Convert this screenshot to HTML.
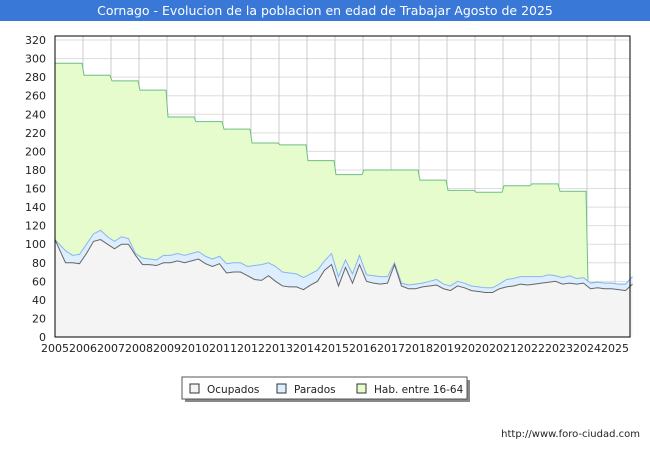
<!DOCTYPE html>
<html><head><meta charset="utf-8"><style>
body{margin:0;width:650px;height:450px;background:#fff;font-family:"DejaVu Sans","Liberation Sans",sans-serif;overflow:hidden}
#title{position:absolute;left:0;top:0;width:650px;height:21px;background:#3a78d8;color:#fff;font-size:12.5px;text-align:center;line-height:22px}
</style></head><body>
<div id="title">Cornago - Evolucion de la poblacion en edad de Trabajar Agosto de 2025</div>
<svg id="c" width="650" height="450" style="position:absolute;left:0;top:0;font-family:'DejaVu Sans',sans-serif"></svg>
<script>
const years=[2005,2006,2007,2008,2009,2010,2011,2012,2013,2014,2015,2016,2017,2018,2019,2020,2021,2022,2023,2024,2025];
const yTicks=[0,20,40,60,80,100,120,140,160,180,200,220,240,260,280,300,320];
const habAnnual=[295,282,276,266,237,232,224,209,207,190,175,180,180,169,158,156,163,165,157];
const ocupados=[105,80,80,79, 90,103,105,100, 95,100,100,88, 78,78,77,80, 80,82,80,82, 84,79,76,79, 69,70,70,66, 62,61,66,60, 55,54,54,51, 56,60,72,78, 55,75,58,78, 60,58,57,58, 78,55,52,52, 54,55,56,52, 50,55,53,50, 49,48,48,52, 54,55,57,56, 57,58,59,60, 57,58,57,58, 52,53,52,52, 51,50,57];
const parados=[0,13,8,10, 10,8,10,8, 8,8,6,2, 7,6,6,8, 8,8,8,8, 8,8,8,8, 10,10,10,10, 15,17,14,16, 15,15,14,13, 12,12,10,12, 10,8,10,10, 7,8,8,7, 2,3,4,5, 4,5,6,5, 5,5,5,5, 5,5,5,5, 8,8,8,9, 8,7,8,6, 7,8,6,6, 6,6,6,6, 6,7,8];
const L=55,R=630,T=36,B=337;
const X=t=>L+(t-2005)*28;
const Y=v=>B-v*(297/320);
const svg=document.getElementById('c');
const NS='http://www.w3.org/2000/svg';
function mk(tag,attrs,parent){const e=document.createElementNS(NS,tag);for(const k in attrs)e.setAttribute(k,attrs[k]);(parent||svg).appendChild(e);return e;}
mk('rect',{x:L,y:T,width:R-L,height:B-T,fill:'#fff'});
yTicks.forEach(v=>{const l=mk('line',{x1:L,x2:R,y1:Y(v),y2:Y(v),stroke:'#ddd','stroke-width':1});

const t=mk('text',{x:L-9,y:Y(v)+4,'text-anchor':'end','font-size':'11',fill:'#222'});t.textContent=v;
});
years.forEach(yr=>{const l=mk('line',{x1:X(yr),x2:X(yr),y1:T,y2:B,stroke:'#ccc','stroke-width':1});

const t=mk('text',{x:X(yr),y:B+15,'text-anchor':'middle','font-size':'11',fill:'#222'});t.textContent=yr;
});
const tq=i=>2005+i*0.25+0.125;
const n=ocupados.length;
const tot=ocupados.map((o,i)=>o+parados[i]);
let hp=[];
habAnnual.forEach((h,i)=>{const y0=2005+i;hp.push([X(y0)+(i?1:0),Y(h)]);hp.push([X(y0+1)-1,Y(h)]);});
hp.push([X(2024)+1,Y(tot[76])]);
for(let i=77;i<n;i++)hp.push([X(tq(i)),Y(tot[i])]);
const end=X(tq(n-1));
const hab=mk('path',{d:'M'+L+','+B+' L'+hp.map(p=>p.join(',')).join(' L')+' L'+end+','+B+'Z',fill:'#e6fccd',stroke:'none'});

const habL=mk('polyline',{points:hp.map(p=>p.join(',')).join(' '),fill:'none',stroke:'#6cbf84','stroke-width':1});

const pt=a=>a.map((v,i)=>X(i===0?2005:tq(i))+','+Y(v));
const tp=pt(tot);
const par=mk('path',{d:'M'+L+','+B+' L'+tp.join(' L')+' L'+end+','+B+'Z',fill:'#ddeeff',stroke:'none'});

const parL=mk('polyline',{points:tp.join(' '),fill:'none',stroke:'#8ab4f0','stroke-width':1});

const op=pt(ocupados);
const oc=mk('path',{d:'M'+L+','+B+' L'+op.join(' L')+' L'+end+','+B+'Z',fill:'#f4f4f4',stroke:'none'});

const ocL=mk('polyline',{points:op.join(' '),fill:'none',stroke:'#666','stroke-width':1});

const fr=mk('rect',{x:L,y:T,width:R-L,height:B-T,fill:'none',stroke:'#000','stroke-width':1});

const lg=mk('g',{});

mk('rect',{x:185,y:380,width:285,height:22,fill:'#888'},lg);
mk('rect',{x:182,y:377,width:285,height:22,fill:'#fff',stroke:'#555'},lg);
[['Ocupados','#f4f4f4',190],['Parados','#ddeeff',277],['Hab. entre 16-64','#e6fccd',357]].forEach(([s,c,x])=>{
const b=mk('rect',{x:x,y:384,width:9,height:9,fill:c,stroke:'#333'},lg);

const t=mk('text',{x:x+17,y:393,'font-size':'10.5',fill:'#222'},lg);t.textContent=s;
});
const u=mk('text',{x:640,y:437,'text-anchor':'end','font-size':'10',fill:'#222'});u.textContent='http://www.foro-ciudad.com';

</script>
</body></html>
